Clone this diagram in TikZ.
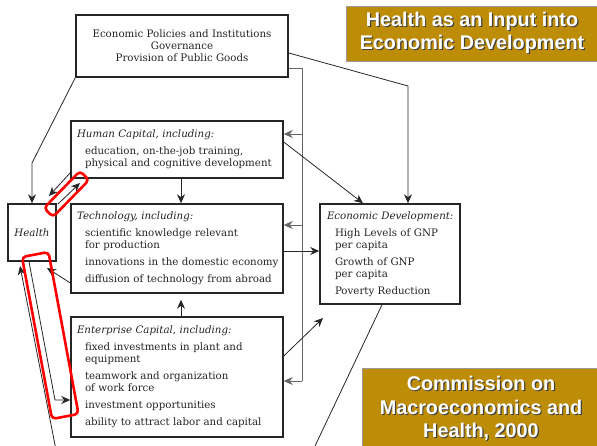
\documentclass[tikz,border=0pt]{standalone}
\usepackage{fontspec}
\setmainfont{DejaVu Serif}
\newfontfamily\cimfont{Liberation Sans}
\usetikzlibrary{arrows.meta}

\definecolor{arany}{RGB}{190,141,8}
\definecolor{szoveg}{RGB}{35,35,35}

% white title text with a dark drop shadow
\newcommand{\arnyek}[1]{\leavevmode\rlap{\hspace{1.2pt}\raisebox{-1.2pt}{\color{black!75}#1}}#1}
% box heading and indented item line (never broken)
\newcommand{\fej}[1]{\mbox{\textit{#1}}}
\newcommand{\tetel}[1]{\hspace*{8pt}\mbox{#1}}

\tikzset{
  doboz/.style={draw=black!85,line width=1.5pt,inner xsep=6pt,inner ysep=3pt,align=left,
                text=szoveg,font=\fontsize{10.25}{12}\selectfont},
  cim/.style={draw=black!40,fill=arany,line width=0.6pt,align=center,text=white,
              font=\cimfont\bfseries\fontsize{19.8}{23.5}\selectfont},
  nyil/.style={-{Stealth[length=9pt,width=8pt]},line width=0.8pt,draw=black!85},
  vonal/.style={line width=0.8pt,draw=black!85},
  busz/.style={line width=0.8pt,draw=black!60},
  kiemel/.style={draw=red,line width=2.6pt,rounded corners=4pt},
}

\begin{document}
\begin{tikzpicture}[x=1pt,y=-1pt]
  \useasboundingbox (0,0) rectangle (597,446);

  % boxes
  \node[doboz,align=center,minimum width=212pt,minimum height=62pt] (pol) at (182,46)
    {Economic Policies and Institutions\\Governance\\Provision of Public Goods};
  \node[doboz,text width=200pt,minimum height=57pt] (hum) at (177,149.5)
    {\fej{Human Capital, including:}\\[5pt]
     \tetel{education, on-the-job training,}\\
     \tetel{physical and cognitive development}};
  \node[doboz,text width=200pt,minimum height=89pt] (tech) at (177,248.5)
    {\fej{Technology, including:}\\[5pt]
     \tetel{scientific knowledge relevant}\\
     \tetel{for production}\\[5pt]
     \tetel{innovations in the domestic economy}\\[5pt]
     \tetel{diffusion of technology from abroad}};
  \node[doboz,text width=200pt,minimum height=120pt] (ent) at (177,377)
    {\fej{Enterprise Capital, including:}\\[5pt]
     \tetel{fixed investments in plant and}\\
     \tetel{equipment}\\[5pt]
     \tetel{teamwork and organization}\\
     \tetel{of work force}\\[5pt]
     \tetel{investment opportunities}\\[5pt]
     \tetel{ability to attract labor and capital}};
  \node[doboz,align=center,minimum width=48pt,minimum height=57pt,inner xsep=2pt] (health) at (32,232.5)
    {\textit{Health}};
  \node[doboz,text width=126pt,inner xsep=7pt,minimum height=100pt] (econ) at (390,254)
    {\fej{Economic Development:}\\[5pt]
     \tetel{High Levels of GNP}\\
     \tetel{per capita}\\[5pt]
     \tetel{Growth of GNP}\\
     \tetel{per capita}\\[5pt]
     \tetel{Poverty Reduction}};

  % titles
  \node[cim,minimum width=252pt,minimum height=55pt] (cim1) at (472,33.5)
    {\arnyek{Health as an Input into}\\\arnyek{Economic Development}};
  \node[cim,minimum width=238pt,minimum height=82pt] (cim2) at (481,409)
    {\arnyek{Commission on}\\\arnyek{Macroeconomics and}\\\arnyek{Health, 2000}};

  % policies
  \draw[nyil] (pol.south west) -- (32,163) -- (health.north);
  \draw[nyil] ([yshift=-7pt]pol.east) -- (408,86) -- (econ.north -| 408,0);
  \draw[busz] ([yshift=-22pt]pol.east) -| (302,381);
  \draw[nyil,draw=black!60] (302,134) -- (302,134 -| hum.east);
  \draw[nyil,draw=black!60] (302,225) -- (302,225 -| tech.east);
  \draw[nyil,draw=black!60] (302,381) -- (302,381 -| ent.east);

  % into economic development
  \draw[nyil] ([yshift=7.5pt]hum.east) -- (econ.north -| 363,0);
  \draw[nyil] ([yshift=-2.5pt]tech.east) -- ([yshift=-2.5pt]tech.east -| econ.west);
  \coordinate (ecel) at (323,318);
  \draw[nyil] ([yshift=21pt]ent.east) -- (ecel);
  \coordinate (lent1) at (315,446);
  \draw[vonal] ([xshift=-8pt]econ.south) -- (lent1);

  % between the capital boxes
  \draw[nyil] ([xshift=4pt]hum.south) -- ([xshift=4pt]tech.north);
  \draw[nyil] ([xshift=4pt]ent.north) -- ([xshift=4pt,yshift=-6pt]tech.south);

  % health links
  \coordinate (hcel) at (49,196);
  \coordinate (hkap) at (80,183);
  \draw[nyil] ([yshift=6pt]hum.south west) -- (hcel);
  \draw[nyil] ([xshift=1pt,yshift=-1pt]health.north east) -- (hkap);
  \draw[nyil] ([yshift=-34.5pt]tech.west) -- (47,268);
  \draw[nyil] ([xshift=-3pt]health.south) -- (55,400) -- (55,400 -| ent.west);
  \coordinate (lent2) at (56,450);
  \draw[nyil] (lent2) -- (20,266);

  % highlights
  \draw[kiemel] (44,208) -- (53,217) -- (89,180) -- (80,171) -- cycle;
  \draw[kiemel] (22,257) -- (48.5,252) -- (78.5,414) -- (52,419) -- cycle;
\end{tikzpicture}
\end{document}
